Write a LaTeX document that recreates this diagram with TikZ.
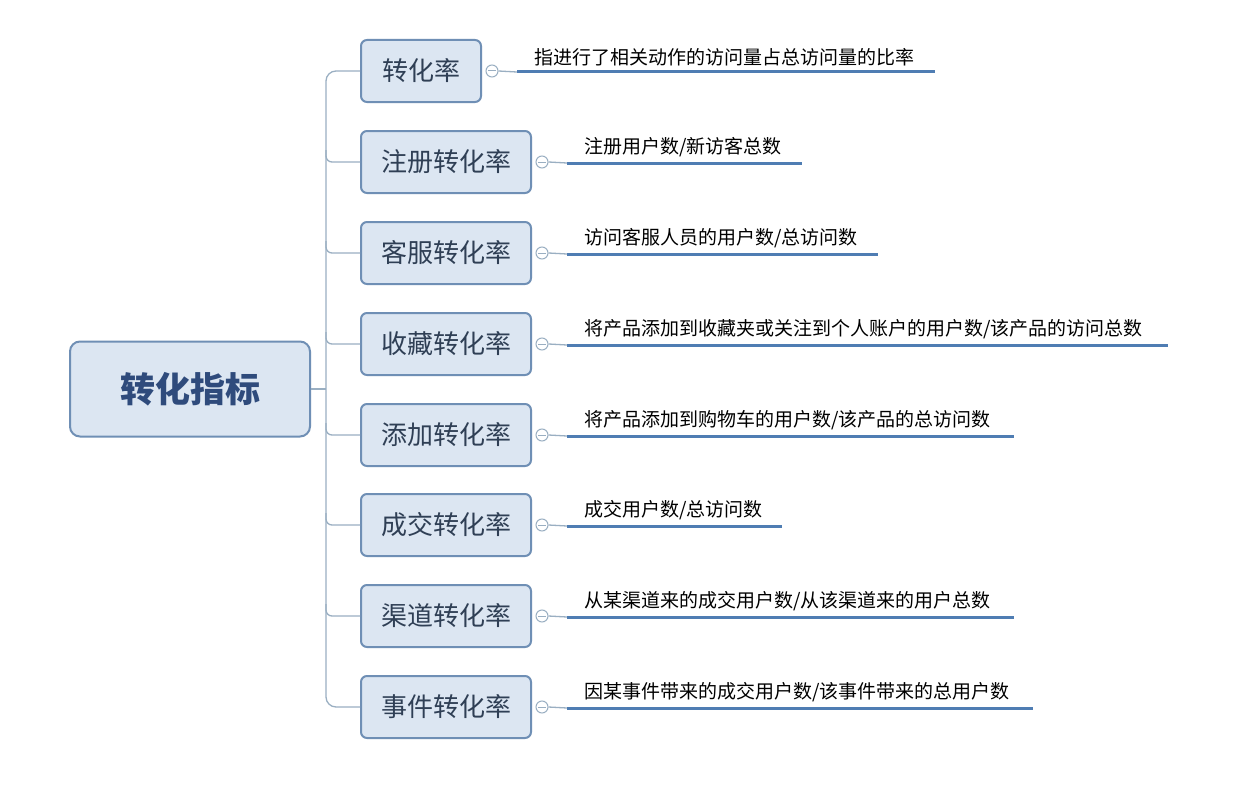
\documentclass[tikz,border=0pt]{standalone}
\usepackage{fontspec}
\setmainfont{Noto Sans CJK SC}
\definecolor{boxline}{HTML}{6F8FB5}
\definecolor{boxfill}{HTML}{DCE6F2}
\definecolor{txt}{HTML}{2F3F55}
\definecolor{trunkc}{HTML}{9AAFC2}
\definecolor{ulc}{HTML}{4F7DB3}
\definecolor{rootc}{HTML}{2F4B7C}
\begin{document}
\begin{tikzpicture}[x=1pt,y=-1pt,
  box/.style={draw=boxline,line width=2pt,fill=boxfill,rounded corners=6pt,minimum height=62pt,inner sep=0pt,text=txt},
  trunk/.style={draw=trunkc,line width=1.3pt},
  knob/.style={circle,draw=trunkc,line width=1pt,fill=white,minimum size=12pt,inner sep=0pt},
  uline/.style={draw=ulc,line width=3pt},
  desc/.style={anchor=south west,inner sep=0pt,font=\fontsize{19}{21}\selectfont,text=black}]
\useasboundingbox (0,0) rectangle (1259,800);
\fill[white] (0,0) rectangle (1259,800);
\node[box,minimum width=240pt,minimum height=95pt,rounded corners=10pt,font=\bfseries\fontsize{35}{37}\selectfont,text=rootc] (root) at (190,389) {转化指标};
\coordinate (tj) at (326,389);
\draw[trunk] (root.east) -- (tj);
\foreach \i/\t/\y/\w/\d/\e in {
 1/转化率/71/120/{指进行了相关动作的访问量占总访问量的比率}/935,
 2/注册转化率/162/170/{注册用户数/新访客总数}/802,
 3/客服转化率/253/170/{访问客服人员的用户数/总访问数}/878,
 4/收藏转化率/344/170/{将产品添加到收藏夹或关注到个人账户的用户数/该产品的访问总数}/1168,
 5/添加转化率/435/170/{将产品添加到购物车的用户数/该产品的总访问数}/1014,
 6/成交转化率/525/170/{成交用户数/总访问数}/782,
 7/渠道转化率/616/170/{从某渠道来的成交用户数/从该渠道来的用户总数}/1014,
 8/事件转化率/707/170/{因某事件带来的成交用户数/该事件带来的总用户数}/1033}{
  \node[box,minimum width=\w pt,anchor=west,font=\fontsize{26}{28}\selectfont] (c\i) at (360,\y) {\t};
  \node[knob] (k\i) at ([xshift=10pt]c\i.east) {};
  \draw[trunkc,line width=1pt] ([xshift=-4pt]k\i.center) -- ([xshift=4pt]k\i.center);
  \coordinate (us\i) at ([xshift=35pt,yshift=-1pt]c\i.east);
  \coordinate (ue\i) at (\e,\y+1);
  \draw[trunk] (k\i.east) -- (us\i);
  \draw[uline] (us\i) -- (ue\i);
  \node[desc] (d\i) at ([xshift=17pt,yshift=6pt]us\i) {\d};
}
\draw[trunk,rounded corners=10pt] (c1.west) -- (tj|-c1.west) -- (tj|-c8.west) -- (c8.west);
\foreach \i in {2,...,7}{\draw[trunk,rounded corners=6pt] (tj|-c\i.west) ++(0,-12) -- ++(0,12) -- (c\i.west);}
\end{tikzpicture}
\end{document}
